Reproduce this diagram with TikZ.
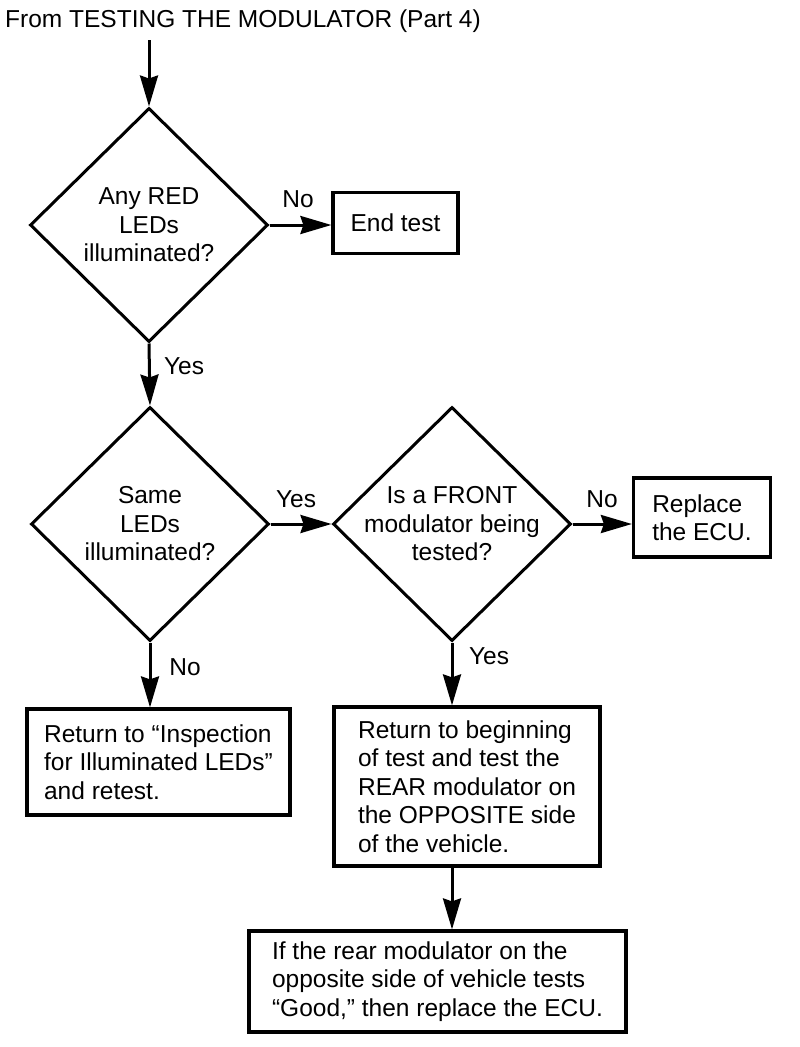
\documentclass[tikz,border=0pt]{standalone}
\usepackage{fontspec}
\setmainfont{Liberation Sans}
\usetikzlibrary{shapes.geometric,arrows.meta}
\begin{document}
\begin{tikzpicture}[x=1pt,y=-1pt,
  every node/.style={font=\fontsize{24.5}{28.5}\selectfont},
  dia/.style={shape=diamond, draw, line width=3pt, minimum width=238pt, minimum height=234pt, inner sep=0pt},
  dtext/.style={align=center, inner sep=0pt},
  box/.style={draw, line width=3.2pt, align=left, inner sep=0pt},
  lbl/.style={inner sep=0pt},
  arr/.style={line width=3pt, -{Stealth[length=31pt,width=18pt,inset=3pt]}}]
\useasboundingbox (0,0) rectangle (800,1047);

\node[lbl, anchor=base west] (title) at (5,27) {From TESTING THE MODULATOR (Part 4)};
\coordinate (start) at (149,40);

\node[dia] (d1) at (149,225) {};
\node[dtext] (d1t) at (d1.center) {Any RED\\LEDs\\illuminated?};

\node[box, minimum width=125pt, minimum height=61pt] (end) at (395.5,223) {End test};

\node[dia] (d2) at (150,524) {};
\node[dtext] (d2t) at (d2.center) {Same\\LEDs\\illuminated?};

\node[dia] (d3) at (452,524) {};
\node[dtext] (d3t) at (d3.center) {Is a FRONT\\modulator being\\tested?};

\node[box, minimum width=137pt, minimum height=79pt] (ecu) at (702,517.5) {Replace\\the ECU.};

\node[box, minimum width=263pt, minimum height=106pt] (b4) at (158.5,762) {Return to “Inspection\\for Illuminated LEDs”\\and retest.};

\node[box, minimum width=266pt, minimum height=159pt] (b5) at (467,786.5) {Return to beginning\\of test and test the\\REAR modulator on\\the OPPOSITE side\\of the vehicle.};

\node[box, minimum width=377pt, minimum height=101pt] (b6) at (437.5,981.5) {If the rear modulator on the\\opposite side of vehicle tests\\“Good,” then replace the ECU.};

\draw[arr] (start) -- (d1.north);
\draw[arr] (d1.east) -- (d1.east -| end.west);
\draw[arr] (d1.south) -- (d2.north);
\draw[arr] (d2.east) -- (d3.west);
\draw[arr] (d3.east) -- (d3.east -| ecu.west);
\draw[arr] (d2.south) -- (d2.south |- b4.north);
\draw[arr] (d3.south) -- (d3.south |- b5.north);
\draw[arr] (d3.south |- b5.south) -- (d3.south |- b6.north);

\node[lbl] (l1) at (298,199) {No};
\node[lbl] (l2) at (184,366) {Yes};
\node[lbl] (l3) at (296,499) {Yes};
\node[lbl] (l4) at (602,499) {No};
\node[lbl] (l5) at (185,667) {No};
\node[lbl] (l6) at (489,656) {Yes};
\end{tikzpicture}
\end{document}
